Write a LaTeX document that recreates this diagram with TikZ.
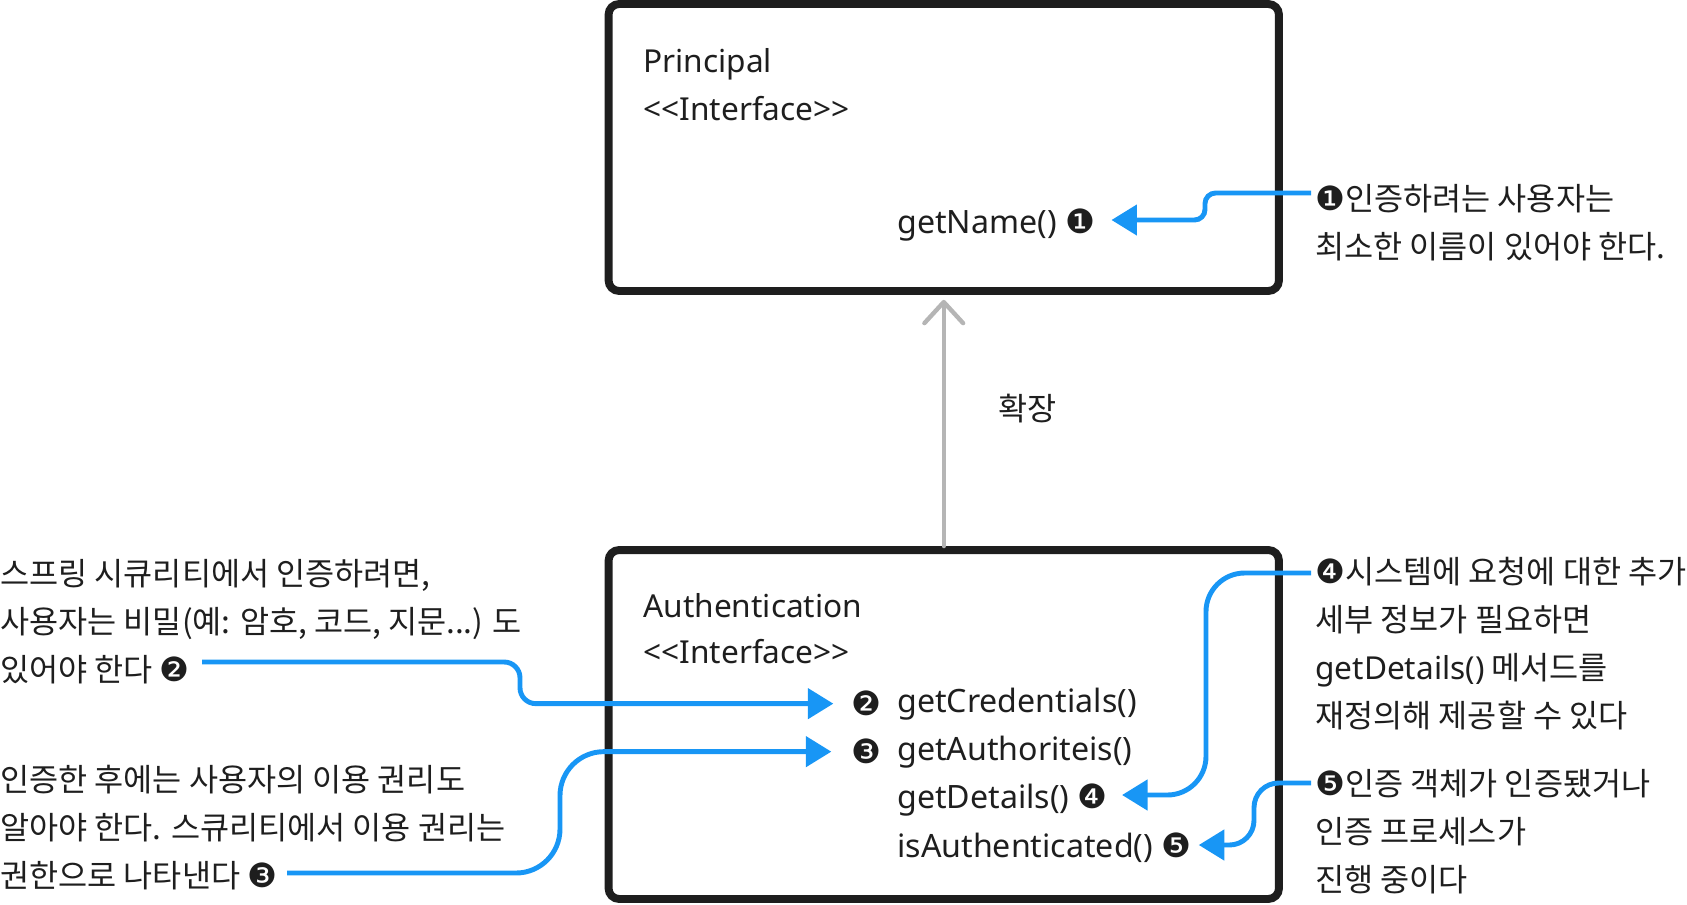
\documentclass[tikz,border=0pt]{standalone}
\usepackage{fontspec}
\setmainfont{Noto Sans}
\newfontfamily\kr{Noto Sans CJK KR}
\newfontfamily\dingfont{DejaVu Sans}
\usetikzlibrary{arrows.meta, positioning, calc}
\definecolor{myblue}{RGB}{24,150,245}
\definecolor{mydark}{RGB}{30,30,30}
\definecolor{mygray}{RGB}{181,181,181}
\newcommand{\cnum}[1]{{\dingfont\fontsize{19}{27.2}\selectfont #1}}
\newcommand{\latin}[1]{{\rmfamily\fontsize{18}{27.2}\selectfont #1}}
\tikzset{
  ifacebox/.style={rectangle, draw=mydark, line width=4.5pt,
    rounded corners=6pt, minimum width=13.41cm},
  title/.style={anchor=base west, inner sep=0pt, text=mydark,
    font=\fontsize{18}{27.2}\selectfont},
  method/.style={anchor=base west, inner sep=0pt, text=mydark,
    font=\fontsize{18.3}{27.2}\selectfont},
  note/.style={anchor=base west, inner sep=0pt, align=left, text=mydark,
    font=\kr\fontsize{18}{27.2}\selectfont},
  callout/.style={-{Triangle[length=14.5pt, width=17pt]}, line width=2.8pt, color=myblue},
  extends/.style={-{Straight Barb[length=12pt, width=22pt, round]}, line width=2.5pt,
    line cap=round, color=mygray}
}

\begin{document}
\begin{tikzpicture}[x=0.02cm, y=-0.02cm]
  \useasboundingbox (0,0) rectangle (1687,904);
  % interfaces
  \node[ifacebox, minimum height=5.74cm] (principal) at (943.75,147.5) {};
  \node[ifacebox, minimum height=6.98cm] (authbox) at (943.75,724.5) {};
  \node[title] (ptitle) at (643,72) {Principal};
  \node[title] (pstereo) at (643,120) {<{}<Interface>{}>};
  \node[method] (getname) at (897,233) {getName() \cnum{❶}};
  \node[title] (atitle) at (643,617) {Authentication};
  \node[title] (astereo) at (643,663) {<{}<Interface>{}>};
  \node[method] (cred) at (897,712) {getCredentials()};
  \node[method] (authz) at (897,760) {getAuthoriteis()};
  \node[method] (details) at (897,808) {getDetails() \cnum{❹}};
  \node[method] (isauth) at (897,857) {isAuthenticated() \cnum{❺}};
  \node[inner sep=0pt, text=mydark, left=0.3cm of cred] (m2) {\cnum{❷}};
  \node[inner sep=0pt, text=mydark, left=0.3cm of authz] (m3) {\cnum{❸}};

  % extends
  \draw[extends, shorten >=2.8pt] (authbox.north) -- (principal.south);
  \node[note] (extlabel) at (998,420) {확장};

  % notes (placed by the baseline of their last line)
  \node[note] (note1) at (1315,258) {\cnum{❶}인증하려는 사용자는\\최소한 이름이 있어야 한다.};
  \node[note] (note2) at (0,681) {스프링 시큐리티에서 인증하려면,\\사용자는 비밀(예: 암호, 코드, 지문...) 도\\있어야 한다 \cnum{❷}};
  \node[note] (note3) at (0,887) {인증한 후에는 사용자의 이용 권리도\\알아야 한다. 스큐리티에서 이용 권리는\\권한으로 나타낸다 \cnum{❸}};
  \node[note] (note4) at (1315,727) {\cnum{❹}시스템에 요청에 대한 추가\\세부 정보가 필요하면\\\latin{getDetails()} 메서드를\\재정의해 제공할 수 있다};
  \node[note] (note5) at (1315,891) {\cnum{❺}인증 객체가 인증됐거나\\인증 프로세스가\\진행 중이다};
  \coordinate (n1) at (1311,193);
  \coordinate (n2) at (202,662);
  \coordinate (n3) at (287,873);
  \coordinate (n4) at (1311,573);
  \coordinate (n5) at (1311,783);

  % callouts
  \draw[callout, rounded corners=6pt] (n1) -- (1205,193) |- ($(getname.base east)+(16,-13)$);
  \draw[callout, rounded corners=9pt] (n2) -- (520,662) |- ($(m2.west)+(-18,0)$);
  \draw[callout, rounded corners=25pt] (n3) -- (560,873) |- ($(m3.west)+(-20,0)$);
  \draw[callout, rounded corners=22pt] (n4) -- (1206,573) |- ($(details.base east)+(14,-13)$);
  \draw[callout, rounded corners=14pt] (n5) -- (1254,783) |- ($(isauth.base east)+(7,-12)$);
\end{tikzpicture}
\end{document}
